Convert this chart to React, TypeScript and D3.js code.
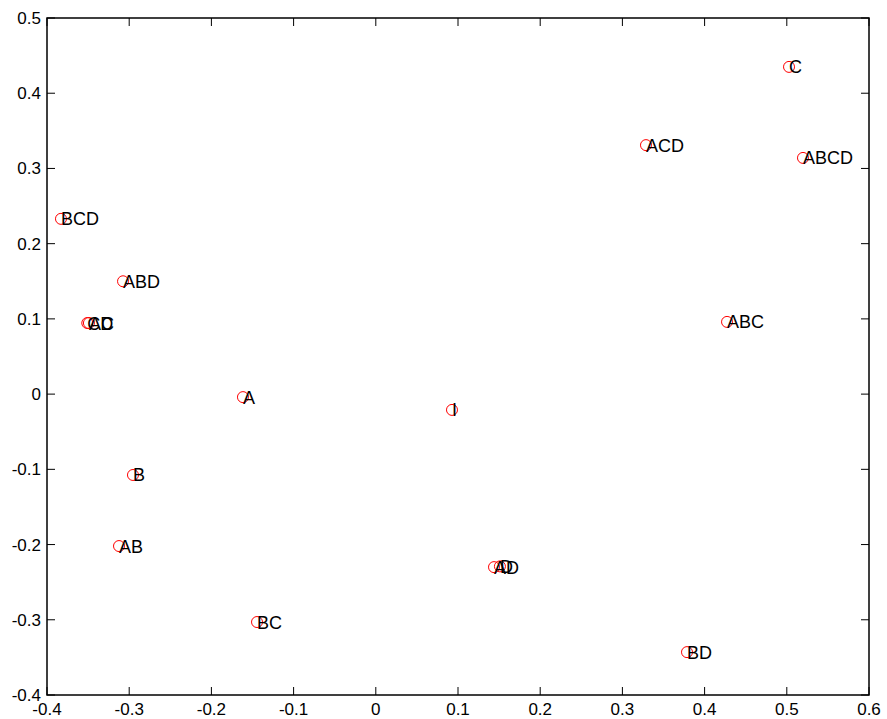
import React from "react";
import * as d3 from "d3";

const labels = ["I", "A", "B", "C", "D", "AB", "AC", "AD", "BC", "BD", "CD", "ABC", "ABD", "ACD", "BCD", "ABCD"];
const xs = [0.0927, -0.1616, -0.2954, 0.5027, 0.151, -0.3124, -0.349, 0.1438, -0.1445, 0.3786, -0.351, 0.4273, -0.3075, 0.3287, -0.383, 0.5197];
const ys = [-0.021, -0.004, -0.1075, 0.435, -0.229, -0.202, 0.0945, -0.230, -0.303, -0.343, 0.0945, 0.096, 0.150, 0.331, 0.233, 0.314];
const xTicks = [-0.4, -0.3, -0.2, -0.1, 0, 0.1, 0.2, 0.3, 0.4, 0.5, 0.6];
const yTicks = [-0.4, -0.3, -0.2, -0.1, 0, 0.1, 0.2, 0.3, 0.4, 0.5];

export default function App() {
  const W = 887, H = 719;
  const L = 47, R = 869, T = 18, B = 695;
  const x = d3.scaleLinear().domain([-0.4, 0.6]).range([L, R]);
  const y = d3.scaleLinear().domain([-0.4, 0.5]).range([B, T]);
  const fmt = (v: number) => (Math.abs(v) < 1e-9 ? "0" : String(+v.toFixed(1)));
  const font = "Arial, 'Liberation Sans', Helvetica, sans-serif";
  const tl = 8;
  return (
    <svg width={W} height={H} style={{ position: "absolute", left: 0, top: 0, background: "#fff" }}>
      <rect x={0} y={0} width={W} height={H} fill="#fff" />
      {labels.map((lab, i) => (
        <g key={lab}>
          <circle cx={x(xs[i])} cy={y(ys[i])} r={5.5} fill="none" stroke="#ff0000" strokeWidth={1} />
        </g>
      ))}
      {labels.map((lab, i) => (
        <text key={"t" + lab} x={x(xs[i])} y={y(ys[i])} dy="0.36em" fontFamily={font} fontSize={18} fill="#000">
          {lab}
        </text>
      ))}
      <rect x={L} y={T} width={R - L} height={B - T} fill="none" stroke="#000" strokeWidth={1.5} />
      {xTicks.map((t) => (
        <g key={"x" + t}>
          <line x1={x(t)} x2={x(t)} y1={B} y2={B - tl} stroke="#000" />
          <line x1={x(t)} x2={x(t)} y1={T} y2={T + tl} stroke="#000" />
          <text x={x(t)} y={B + 20} textAnchor="middle" fontFamily={font} fontSize={17} fill="#000">
            {fmt(t)}
          </text>
        </g>
      ))}
      {yTicks.map((t) => (
        <g key={"y" + t}>
          <line x1={L} x2={L + tl} y1={y(t)} y2={y(t)} stroke="#000" />
          <line x1={R} x2={R - tl} y1={y(t)} y2={y(t)} stroke="#000" />
          <text x={L - 6} y={y(t)} dy="0.35em" textAnchor="end" fontFamily={font} fontSize={17} fill="#000">
            {fmt(t)}
          </text>
        </g>
      ))}
    </svg>
  );
}
